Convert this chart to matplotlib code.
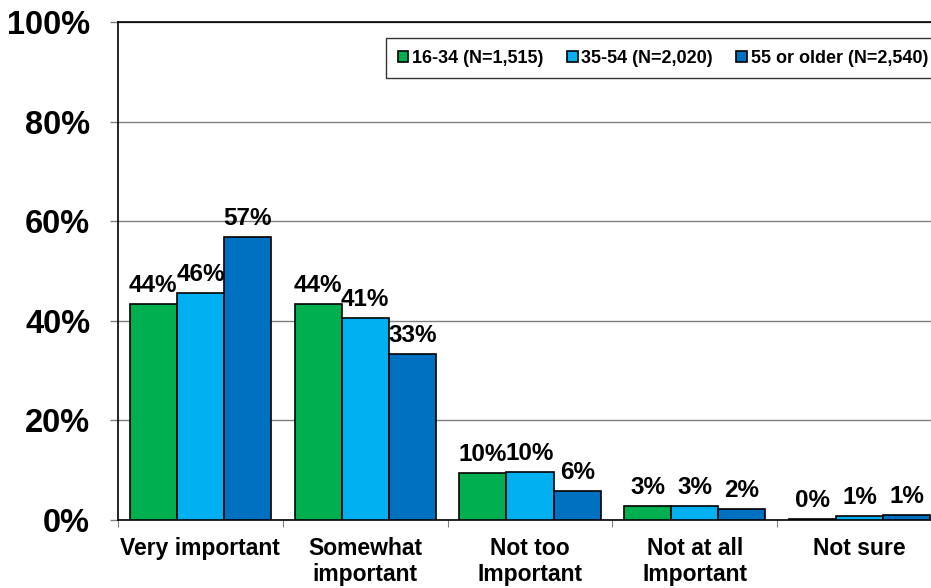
import matplotlib
matplotlib.use("Agg")
import matplotlib.pyplot as plt
import numpy as np

categories = ["Very important", "Somewhat\nimportant", "Not too\nImportant", "Not at all\nImportant", "Not sure"]
series_names = ["16-34 (N=1,515)", "35-54 (N=2,020)", "55 or older (N=2,540)"]
v1 = [43.4, 43.4, 9.4, 2.8, 0.3]
v2 = [45.6, 40.6, 9.6, 2.8, 0.9]
v3 = [56.8, 33.3, 5.8, 2.3, 1.1]
labels1 = ["44%", "44%", "10%", "3%", "0%"]
labels2 = ["46%", "41%", "10%", "3%", "1%"]
labels3 = ["57%", "33%", "6%", "2%", "1%"]
colors = ["#00B050", "#00B0F0", "#0070C0"]

plt.rcParams['font.family'] = ['Liberation Sans', 'DejaVu Sans']
plt.rcParams['font.weight'] = 'bold'

fig = plt.figure(figsize=(9.31, 5.88), dpi=100)
ax = fig.add_axes([118/931, 1-520/588, (942-118)/931, (520-22)/588])

x = np.arange(len(categories))
w = 0.286
data = [v1, v2, v3]
labs = [labels1, labels2, labels3]
for i in range(3):
    pos = x + (i - 1) * w
    ax.bar(pos, data[i], width=w, color=colors[i], edgecolor='black', linewidth=1.2,
           label=series_names[i], zorder=3)
    for p, v, t in zip(pos, data[i], labs[i]):
        ax.text(p, v + 1.4, t, ha='center', va='bottom', fontsize=17.5, fontweight='bold', zorder=4)

ax.set_xlim(-0.5, len(categories) - 0.5)
ax.set_ylim(0, 100)
ax.set_yticks([0, 20, 40, 60, 80, 100])
ax.set_yticklabels(["0%", "20%", "40%", "60%", "80%", "100%"], fontsize=23.5, fontweight='bold')
ax.yaxis.grid(True, color='#808080', linewidth=1, zorder=0)
ax.set_axisbelow(True)

ax.set_xticks(np.arange(len(categories) + 1) - 0.5)
ax.set_xticklabels([])
ax.set_xticks(x, minor=True)
ax.set_xticklabels(categories, minor=True, fontsize=16.5, fontweight='bold', linespacing=1.2)
ax.tick_params(axis='x', which='minor', length=0, pad=12)
ax.tick_params(axis='x', which='major', length=5, color='#808080', direction='out')
ax.tick_params(axis='y', length=6, width=1, color='#808080', direction='out', pad=14)

for s in ['left', 'bottom', 'top']:
    ax.spines[s].set_color('black')
    ax.spines[s].set_linewidth(1.2)
ax.spines['right'].set_visible(False)

leg = ax.legend(loc='upper right', bbox_to_anchor=((940 - 118) / (942 - 118), 1 - 16 / 498), ncol=3,
                frameon=True, fancybox=False, edgecolor='black', borderaxespad=0,
                handlelength=0.6, handleheight=0.6, handletextpad=0.2, columnspacing=1.3,
                borderpad=0.65, prop={'weight': 'bold', 'size': 13})
leg.get_frame().set_linewidth(1.0)

fig.savefig("out.png", dpi=100)
